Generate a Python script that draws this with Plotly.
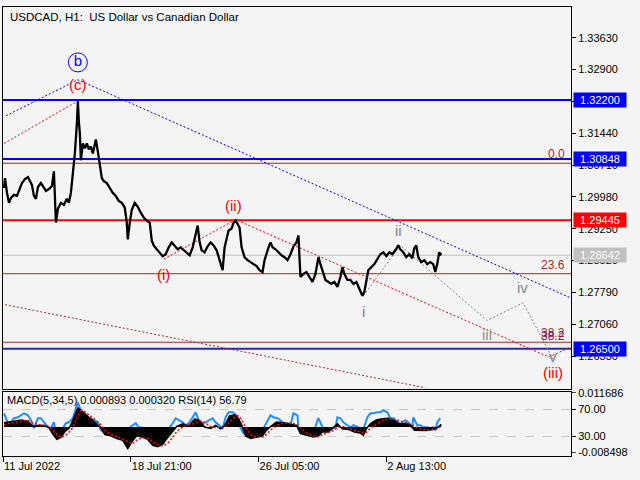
import plotly.graph_objects as go

# ---------------- data ----------------
bars = [1, 2, 4, 6, 8, 11, 14, 17, 19, 22, 25, 27, 29, 31, 33, 35, 38, 40, 43, 46, 49, 51, 53, 55, 58, 61,
        64, 66, 68, 70, 72, 74, 75, 76, 77, 78, 80, 82, 84, 86, 88, 90, 93, 95, 97, 99, 101, 104, 107, 110,
        113, 116, 119, 122, 124, 125, 127, 129, 132, 135, 138, 141, 144, 147, 149, 151, 154, 157, 160, 163,
        166, 169, 172, 175, 178, 181, 184, 187, 190, 193, 195, 197, 199, 202, 205, 208, 211, 214, 217, 220,
        222, 224, 226, 229, 231, 233, 235, 237, 239, 242, 245, 248, 251, 254, 257, 260, 262, 264, 266, 268,
        270, 273, 276, 279, 282, 285, 288, 291, 294, 296, 297, 298, 301, 304, 307, 310, 313, 316, 318, 320,
        323, 326, 329, 332, 335, 338, 340, 342, 345, 348, 351, 354, 356, 358, 360, 362, 364, 366, 369, 372,
        375, 378, 381, 384, 387, 390, 393, 396, 398, 401, 404, 407, 410, 412, 414, 416, 419, 422, 425, 428,
        431, 433, 435, 437, 439]
close = [1.30184, 1.30411, 1.30071, 1.29844, 1.29957, 1.30025, 1.30003, 1.30161, 1.30297, 1.30388, 1.30433,
         1.30343, 1.30252, 1.30003, 1.29935, 1.30207, 1.30297, 1.30229, 1.30116, 1.30161, 1.30229, 1.30569,
         1.29391, 1.29708, 1.29844, 1.29799, 1.29935, 1.29844, 1.30071, 1.30524, 1.30977, 1.31658, 1.32179,
         1.31703, 1.31431, 1.30819, 1.31204, 1.31091, 1.31204, 1.31068, 1.31136, 1.30977, 1.31295, 1.31023,
         1.30705, 1.30411, 1.30343, 1.30297, 1.30184, 1.30071, 1.30003, 1.29889, 1.29844, 1.29731, 1.29391,
         1.29005, 1.29391, 1.29685, 1.29844, 1.29753, 1.29617, 1.29504, 1.29436, 1.29391, 1.28983, 1.28869,
         1.28779, 1.28710, 1.28620, 1.28665, 1.28824, 1.28937, 1.28869, 1.28779, 1.28824, 1.28756, 1.28688,
         1.28642, 1.28824, 1.29119, 1.29323, 1.28937, 1.28756, 1.28710, 1.28847, 1.28937, 1.28869, 1.28756,
         1.28529, 1.28302, 1.28824, 1.29051, 1.29209, 1.29255, 1.29391, 1.29436, 1.29345, 1.29277, 1.28824,
         1.28597, 1.28529, 1.28484, 1.28438, 1.28393, 1.28302, 1.28257, 1.28529, 1.28710, 1.28824, 1.28937,
         1.28824, 1.28779, 1.28710, 1.28642, 1.28597, 1.28529, 1.28665, 1.28847, 1.28937, 1.29096, 1.28597,
         1.28144, 1.28212, 1.28257, 1.28144, 1.28030, 1.28212, 1.28597, 1.28438, 1.28302, 1.28076, 1.28030,
         1.27985, 1.28030, 1.27917, 1.28144, 1.28370, 1.28212, 1.28076, 1.28076, 1.27985, 1.28030, 1.27917,
         1.27804, 1.27713, 1.27804, 1.28076, 1.28302, 1.28370, 1.28438, 1.28552, 1.28665, 1.28710, 1.28620,
         1.28710, 1.28665, 1.28756, 1.28869, 1.28779, 1.28710, 1.28597, 1.28665, 1.28574, 1.28801, 1.28869,
         1.28597, 1.28484, 1.28529, 1.28438, 1.28484, 1.28438, 1.28257, 1.28438, 1.28710, 1.28642]

tick_bars = [0, 128, 256, 384]
tick_labels = ["11 Jul 2022", "18 Jul 21:00", "26 Jul 05:00", "2 Aug 13:00"]
price_ticks = [1.33630, 1.32900, 1.32170, 1.31440, 1.30710, 1.29980, 1.29250, 1.28520, 1.27790, 1.27060, 1.26330]

level_prices = [1.32200, 1.30848, 1.29445, 1.26500]
level_colors = ["#0000ff", "#0000ff", "#ff0000", "#2a2aa0"]
level_box_colors = ["#0000ff", "#0000ff", "#ff0000", "#0000ff"]
bid_price = 1.28642

fib_names = ["0.0", "23.6", "38.2"]
fib_prices = [1.30751, 1.28219, 1.26648]

blue_channel_bars = [3, 75, 569]
blue_channel_prices = [1.31839, 1.32666, 1.27661]
red_c_bars = [1, 75]
red_c_prices = [1.31204, 1.32179]
red_wave_bars = [161, 233, 547, 568]
red_wave_prices = [1.28552, 1.29459, 1.26308, 1.26534]
brown_line_bars = [2, 423]
brown_line_prices = [1.27509, 1.25605]
grey_wave_bars = [361, 398, 485, 521, 551]
grey_wave_prices = [1.27713, 1.28869, 1.27146, 1.27554, 1.26262]

red_labels = ["(c)", "(i)", "(ii)", "(iii)"]
red_label_bars = [75, 161, 231, 551]
red_label_prices = [1.32565, 1.28212, 1.29776, 1.25945]
grey_labels = ["i", "ii", "iii", "iv", "v"]
grey_label_bars = [361, 396, 485, 520, 551]
grey_label_prices = [1.27350, 1.29209, 1.26829, 1.27894, 1.26330]
grey_label_colors = ["#6f8499", "#8c8079", "#8a8f98", "#7f8794", "#6f86a0"]
b_label_bar = 75
b_label_price = 1.33063

rsi_bars = [1, 5, 8, 11, 15, 18, 21, 25, 28, 31, 35, 38, 41, 45, 48, 51, 53, 56, 60, 63, 66, 70, 73, 75, 78,
            81, 85, 88, 91, 95, 98, 101, 105, 108, 111, 115, 118, 121, 123, 125, 126, 130, 133, 136, 140, 143,
            146, 150, 153, 156, 160, 163, 166, 170, 173, 176, 180, 183, 186, 190, 193, 196, 200, 203, 206, 210,
            213, 216, 220, 223, 226, 230, 233, 236, 238, 241, 245, 248, 251, 255, 258, 261, 265, 268, 271, 275,
            278, 281, 285, 288, 291, 295, 296, 298, 301, 305, 308, 311, 315, 316, 320, 323, 326, 330, 333, 335,
            338, 341, 345, 348, 351, 355, 358, 360, 363, 365, 368, 371, 375, 378, 381, 385, 388, 391, 395, 396,
            400, 403, 406, 410, 411, 415, 418, 421, 425, 428, 431, 433, 435, 438]
rsi = [64.1, 49.3, 50.7, 56.7, 58.1, 61.1, 64.1, 61.1, 53.7, 41.9, 56.7, 56.7, 50.7, 43.3, 41.9, 50.7, 34.4,
       35.9, 41.9, 49.3, 50.7, 56.7, 71.5, 80.4, 68.5, 58.1, 56.7, 56.7, 53.7, 50.7, 38.9, 35.9, 35.9, 35.9,
       35.9, 34.4, 31.5, 31.5, 35.9, 24.1, 41.9, 46.3, 49.3, 43.3, 41.9, 41.9, 34.4, 27.0, 27.0, 27.0, 28.5,
       34.4, 41.9, 49.3, 56.7, 53.7, 50.7, 46.3, 49.3, 58.1, 65.6, 53.7, 49.3, 50.7, 53.7, 56.7, 50.7, 46.3,
       41.9, 58.1, 65.6, 65.6, 62.5, 56.0, 41.9, 34.4, 31.5, 34.4, 35.9, 41.9, 38.9, 41.9, 53.7, 61.1, 58.1,
       56.7, 53.7, 49.3, 49.3, 46.3, 64.1, 61.1, 41.9, 35.9, 35.9, 38.9, 35.9, 34.4, 53.7, 56.7, 43.3, 41.9,
       38.9, 41.9, 41.9, 58.1, 56.7, 50.7, 46.3, 43.3, 46.3, 43.3, 41.9, 35.9, 50.7, 58.1, 64.1, 64.1, 65.6,
       65.6, 68.5, 65.6, 56.7, 56.7, 50.7, 46.3, 50.7, 53.7, 50.7, 41.9, 58.1, 46.3, 46.3, 43.3, 43.3, 41.9,
       43.3, 38.9, 50.7, 56.79]

macd_bars = [1, 5, 11, 18, 25, 28, 31, 36, 41, 46, 50, 54, 58, 62, 66, 69, 72, 75, 78, 82, 86, 90, 94, 98,
             102, 108, 114, 120, 125, 129, 134, 140, 145, 150, 155, 160, 165, 170, 174, 180, 186, 192, 197,
             202, 208, 213, 218, 222, 227, 232, 236, 239, 243, 248, 254, 260, 264, 268, 274, 281, 288, 294,
             298, 304, 311, 316, 320, 326, 331, 335, 340, 346, 352, 358, 361, 364, 368, 374, 380, 386, 392,
             398, 404, 409, 412, 418, 424, 430, 434, 439]
macd = [0.0015, 0.0018, 0.0020, 0.0024, 0.0020, 0.0008, 0.0002, 0.0006, 0.0005, -0.0002, -0.0025, -0.0042,
        -0.0035, -0.0015, -0.0005, 0.0015, 0.0040, 0.0065, 0.0058, 0.0044, 0.0033, 0.0022, 0.0011, -0.0002,
        -0.0026, -0.0030, -0.0039, -0.0045, -0.0073, -0.0050, -0.0030, -0.0035, -0.0042, -0.0062, -0.0067,
        -0.0058, -0.0036, -0.0017, 0.0002, 0.0011, 0.0003, 0.0028, 0.0022, 0.0000, -0.0005, 0.0006, -0.0006,
        0.0005, 0.0038, 0.0042, 0.0028, 0.0008, -0.0030, -0.0039, -0.0034, -0.0030, -0.0011, 0.0002, 0.0017,
        0.0015, 0.0010, 0.0006, -0.0022, -0.0028, -0.0034, -0.0030, -0.0017, -0.0017, 0.0000, 0.0011, -0.0006,
        -0.0008, -0.0017, -0.0020, -0.0028, -0.0006, 0.0011, 0.0024, 0.0028, 0.0030, 0.0022, 0.0011, 0.0012,
        0.0006, -0.0011, -0.0011, -0.0012, -0.0008, -0.0005, 0.000893]
signal = [0.0008, 0.0012, 0.0016, 0.0020, 0.0022, 0.0018, 0.0012, 0.0008, 0.0006, 0.0003, -0.0010, -0.0025,
          -0.0035, -0.0030, -0.0018, -0.0005, 0.0015, 0.0040, 0.0055, 0.0052, 0.0042, 0.0032, 0.0020, 0.0008,
          -0.0010, -0.0025, -0.0033, -0.0040, -0.0050, -0.0058, -0.0045, -0.0035, -0.0038, -0.0048, -0.0060,
          -0.0065, -0.0055, -0.0035, -0.0015, 0.0000, 0.0008, 0.0012, 0.0022, 0.0015, 0.0002, -0.0002, 0.0000,
          -0.0002, 0.0015, 0.0035, 0.0038, 0.0025, 0.0000, -0.0025, -0.0036, -0.0034, -0.0025, -0.0010, 0.0005,
          0.0014, 0.0014, 0.0010, -0.0002, -0.0020, -0.0030, -0.0033, -0.0026, -0.0018, -0.0012, -0.0002,
          0.0002, -0.0004, -0.0010, -0.0016, -0.0020, -0.0018, -0.0004, 0.0010, 0.0022, 0.0027, 0.0027, 0.0020,
          0.0014, 0.0010, 0.0002, -0.0006, -0.0010, -0.0010, -0.0008, 0.000320]
macd_max, macd_min = 0.011686, -0.008498
rsi_levels = [70, 30]

title_text = "USDCAD, H1:  US Dollar vs Canadian Dollar"
ind_text = "MACD(5,34,5) 0.000893 0.000320 RSI(14) 56.79"

# ---------------- figure ----------------
FONT = "Liberation Sans"
BG = "#f4f4f4"
fig = go.Figure()

dot = "2px,2px"
fig.add_trace(go.Scatter(x=brown_line_bars, y=brown_line_prices, mode="lines",
                         line=dict(color="#a52a2a", width=1, dash=dot), hoverinfo="skip"))
fig.add_trace(go.Scatter(x=blue_channel_bars, y=blue_channel_prices, mode="lines",
                         line=dict(color="#0000ff", width=1, dash=dot), hoverinfo="skip"))
fig.add_trace(go.Scatter(x=red_c_bars, y=red_c_prices, mode="lines",
                         line=dict(color="#ff0000", width=1, dash=dot), hoverinfo="skip"))
fig.add_trace(go.Scatter(x=red_wave_bars, y=red_wave_prices, mode="lines",
                         line=dict(color="#ff0000", width=1, dash=dot), hoverinfo="skip"))
fig.add_trace(go.Scatter(x=grey_wave_bars, y=grey_wave_prices, mode="lines",
                         line=dict(color="#808080", width=1, dash=dot), hoverinfo="skip"))
fig.add_trace(go.Scatter(x=bars, y=close, mode="lines",
                         line=dict(color="#000000", width=2.3), hoverinfo="skip"))

# circled b
fig.add_trace(go.Scatter(x=[b_label_bar], y=[b_label_price], mode="markers+text", text=["b"],
                         textposition="middle center",
                         textfont=dict(family=FONT, size=15, color="#0000ff"),
                         marker=dict(symbol="circle-open", size=19, color="#0000ff", line=dict(width=1)),
                         hoverinfo="skip", cliponaxis=False))

# lower panel
fig.add_trace(go.Scatter(x=macd_bars, y=macd, mode="lines", fill="tozeroy", fillcolor="#000000",
                         line=dict(color="#000000", width=1.5), xaxis="x2", yaxis="y4", hoverinfo="skip"))
fig.add_trace(go.Scatter(x=macd_bars, y=signal, mode="lines",
                         line=dict(color="#ff0000", width=1.5, dash=dot), xaxis="x2", yaxis="y4",
                         hoverinfo="skip"))
fig.add_trace(go.Scatter(x=rsi_bars, y=rsi, mode="lines",
                         line=dict(color="#1e90ff", width=2), xaxis="x2", yaxis="y3", hoverinfo="skip"))

shapes = []
for p, c in zip(level_prices, level_colors):
    shapes.append(dict(type="line", xref="x domain", x0=0, x1=1, yref="y", y0=p, y1=p,
                       line=dict(color=c, width=2), layer="below"))
shapes.append(dict(type="line", xref="x domain", x0=0, x1=1, yref="y", y0=bid_price, y1=bid_price,
                   line=dict(color="#c0c0c0", width=1), layer="below"))
for p in fib_prices:
    shapes.append(dict(type="line", xref="x domain", x0=0, x1=1, yref="y", y0=p, y1=p,
                       line=dict(color="#b22222", width=1), layer="below"))

ann = []
ann.append(dict(text=title_text, xref="x domain", yref="y domain", x=0.008, y=0.995, xanchor="left",
                yanchor="top", showarrow=False, font=dict(family=FONT, size=11.5, color="#000000")))
ann.append(dict(text=ind_text, xref="x2 domain", yref="y3 domain", x=0.004, y=0.99, xanchor="left",
                yanchor="top", showarrow=False, font=dict(family=FONT, size=11, color="#000000")))
for t, bx, py in zip(red_labels, red_label_bars, red_label_prices):
    ann.append(dict(text=t, x=bx, y=py, xref="x", yref="y", showarrow=False,
                    font=dict(family=FONT, size=15, color="#ff0000")))
for t, bx, py, c in zip(grey_labels, grey_label_bars, grey_label_prices, grey_label_colors):
    ann.append(dict(text=t, x=bx, y=py, xref="x", yref="y", showarrow=False,
                    font=dict(family=FONT, size=15, color=c)))
for name, p in zip(fib_names, fib_prices):
    ann.append(dict(text=name, x=0.993, y=p, xref="x domain", yref="y", xanchor="right", yanchor="bottom",
                    showarrow=False, font=dict(family=FONT, size=12, color="#a52a2a")))
ann.append(dict(text=fib_names[2], x=0.993, y=fib_prices[2], xref="x domain", yref="y", xanchor="right",
                yanchor="bottom", yshift=-3, showarrow=False, font=dict(family=FONT, size=12, color="#4b2a80")))
for p, c in zip(level_prices, level_box_colors):
    ann.append(dict(text=f"{p:.5f}", x=1, y=p, xref="paper", yref="y", xanchor="left", yanchor="middle",
                    xshift=2, showarrow=False, bgcolor=c, borderpad=1, width=50,
                    font=dict(family=FONT, size=11, color="#ffffff")))
ann.append(dict(text=f"{bid_price:.5f}", x=1, y=bid_price, xref="paper", yref="y", xanchor="left",
                yanchor="middle", xshift=2, showarrow=False, bgcolor="#c0c0c0", borderpad=1, width=50,
                font=dict(family=FONT, size=11, color="#ffffff")))

axis_common = dict(showline=True, linecolor="#000000", linewidth=1, mirror=True, zeroline=False,
                   showgrid=False, tickfont=dict(family=FONT, size=11, color="#000000"),
                   tickcolor="#000000")

fig.update_layout(
    width=640, height=480, margin=dict(l=2, r=69, t=2, b=24),
    paper_bgcolor=BG, plot_bgcolor=BG, showlegend=False,
    xaxis=dict(domain=[0, 1], range=[0, 569], anchor="y", showticklabels=False, ticks="", **axis_common),
    yaxis=dict(domain=[0.1498, 1], range=[1.25582, 1.34333], side="right", tickvals=price_ticks,
               ticktext=[f"{v:.5f}" for v in price_ticks], ticks="outside", ticklen=4, **axis_common),
    xaxis2=dict(domain=[0, 1], range=[0, 569], anchor="y3", tickvals=tick_bars, ticktext=tick_labels,
                ticks="outside", ticklen=5, ticklabelposition="outside right", **axis_common),
    yaxis3=dict(domain=[0, 0.1432], range=[0.4, 96.3], anchor="x2", side="right", tickvals=rsi_levels,
                ticktext=[f"{v:.2f}" for v in rsi_levels], ticks="outside", ticklen=4,
                **{**axis_common, "showgrid": True}, gridcolor="#c8c8c8", griddash="dash"),
    yaxis4=dict(overlaying="y3", anchor="x2", range=[-0.009844, 0.012022], side="right",
                tickvals=[macd_max, macd_min], ticktext=[f"{macd_max:.6f}", f"{macd_min:.6f}"],
                ticks="outside", ticklen=4, showline=False, zeroline=False, showgrid=False,
                tickfont=dict(family=FONT, size=11, color="#000000")),
    shapes=shapes, annotations=ann,
)

fig.write_html("out.html", config={"displayModeBar": False, "staticPlot": True},
               post_script="document.body.style.margin='0';document.body.style.background='#f4f4f4';")
